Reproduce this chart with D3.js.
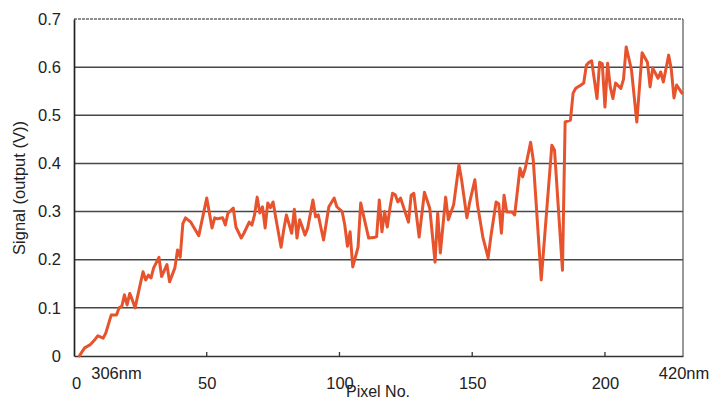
<!DOCTYPE html>
<html>
<head>
<meta charset="utf-8">
<script src="https://cdn.jsdelivr.net/npm/d3@7"></script>
<style>
  html, body { margin: 0; padding: 0; background: #fff; }
  svg { display: block; }
  text { font-family: "Liberation Sans", Arial, sans-serif; fill: #222; }
</style>
</head>
<body>
<svg id="chart" width="713" height="401"></svg>
<script>
// Detector output along the pixel array (pixel number vs. signal in volts)
const pixelNo = [
  2, 4, 6, 8, 9, 11, 12, 14, 16, 17, 18, 19, 20, 21, 22, 23, 26, 27, 28, 29,
  30, 32, 33, 35, 36, 38, 39, 40, 41, 42, 44, 47, 50, 52, 53, 54, 56, 57, 58, 60,
  61, 63, 64, 66, 67, 68, 69, 70, 71, 72, 73, 74, 75, 76, 78, 79, 80, 82, 83, 84,
  85, 86, 87, 88, 90, 91, 92, 94, 96, 98, 99, 101, 102, 103, 104, 105, 107, 108, 109, 111,
  113, 114, 115, 116, 117, 118, 119, 120, 121, 122, 123, 126, 127, 128, 130, 132, 134, 135, 136, 137,
  138, 140, 141, 143, 145, 146, 148, 149, 151, 152, 154, 156, 157, 159, 160, 161, 162, 163, 165, 166,
  168, 169, 170, 172, 173, 176, 180, 181, 184, 185, 187, 188, 189, 191, 192, 193, 194, 195, 197, 198,
  199, 200, 201, 202, 203, 204, 206, 207, 208, 210, 212, 214, 216, 217, 218, 220, 221, 222, 224, 225,
  226, 227, 229
];
const signal = [
  0.000, 0.017, 0.023, 0.035, 0.042, 0.037, 0.048, 0.085, 0.085, 0.100, 0.103, 0.127, 0.106, 0.130, 0.116, 0.100, 0.175, 0.158, 0.168, 0.162,
  0.183, 0.205, 0.165, 0.190, 0.154, 0.183, 0.220, 0.205, 0.275, 0.287, 0.278, 0.250, 0.328, 0.266, 0.287, 0.285, 0.287, 0.272, 0.297, 0.307,
  0.268, 0.245, 0.255, 0.278, 0.272, 0.293, 0.330, 0.297, 0.310, 0.266, 0.318, 0.308, 0.320, 0.287, 0.226, 0.262, 0.293, 0.255, 0.305, 0.245,
  0.283, 0.268, 0.251, 0.265, 0.324, 0.289, 0.293, 0.241, 0.310, 0.328, 0.310, 0.300, 0.272, 0.228, 0.258, 0.185, 0.226, 0.318, 0.293, 0.245,
  0.246, 0.248, 0.324, 0.258, 0.300, 0.268, 0.307, 0.338, 0.335, 0.320, 0.328, 0.278, 0.334, 0.338, 0.247, 0.340, 0.307, 0.251, 0.195, 0.297,
  0.214, 0.330, 0.283, 0.314, 0.397, 0.366, 0.287, 0.318, 0.366, 0.314, 0.247, 0.204, 0.247, 0.320, 0.316, 0.255, 0.334, 0.299, 0.299, 0.293,
  0.390, 0.372, 0.390, 0.444, 0.407, 0.158, 0.438, 0.428, 0.178, 0.486, 0.490, 0.546, 0.556, 0.563, 0.567, 0.604, 0.610, 0.613, 0.535, 0.610,
  0.607, 0.517, 0.608, 0.559, 0.535, 0.567, 0.556, 0.575, 0.642, 0.594, 0.486, 0.630, 0.610, 0.559, 0.598, 0.577, 0.590, 0.569, 0.625, 0.595,
  0.536, 0.563, 0.546
];
const yTicks = [0, 0.1, 0.2, 0.3, 0.4, 0.5, 0.6, 0.7];
const xTicks = [0, 50, 100, 150, 200];
const xTickMarks = [50, 100, 150, 200];
const edgeLabels = [
  { text: "306nm", at: 16 },
  { text: "420nm", at: 229.8 }
];

const svg = d3.select("#chart");
const plotLeft = 74, plotRight = 683, plotTop = 19, plotBottom = 356;
const fontStack = '"Liberation Sans", Arial, sans-serif';

const x = d3.scaleLinear().domain([0, 229.4]).range([plotLeft, plotRight]);
const y = d3.scaleLinear().domain([0, 0.7]).range([plotBottom, plotTop]);

// horizontal gridlines
svg.append("g")
  .selectAll("line")
  .data(yTicks.filter(t => t > 0 && t < 0.7))
  .join("line")
  .attr("x1", plotLeft).attr("x2", plotRight)
  .attr("y1", d => y(d)).attr("y2", d => y(d))
  .attr("stroke", "#474747")
  .attr("stroke-width", 1.5);

// top border (lighter, broken)
svg.append("line")
  .attr("x1", plotLeft).attr("x2", plotRight)
  .attr("y1", y(0.7)).attr("y2", y(0.7))
  .attr("stroke", "#6a6a6a")
  .attr("stroke-width", 1.4)
  .attr("stroke-dasharray", "3,1");

// right border
svg.append("line")
  .attr("x1", plotRight).attr("x2", plotRight)
  .attr("y1", y(0.7)).attr("y2", y(0))
  .attr("stroke", "#555")
  .attr("stroke-width", 1.2);

// y axis
const yAxis = d3.axisLeft(y)
  .tickValues(yTicks)
  .tickSize(0)
  .tickPadding(13)
  .tickFormat(d => d === 0 ? "0" : d3.format(".1f")(d));
const gy = svg.append("g")
  .attr("transform", `translate(${plotLeft},0)`)
  .call(yAxis);
gy.select(".domain").attr("stroke", "#222").attr("stroke-width", 1.7);
gy.selectAll("text")
  .style("font-size", "16.5px")
  .style("font-family", fontStack)
  .attr("fill", "#222");

// x axis
const xAxis = d3.axisBottom(x)
  .tickValues(xTicks)
  .tickSize(0)
  .tickPadding(21)
  .tickFormat(d3.format("d"));
const gx = svg.append("g")
  .attr("transform", `translate(0,${plotBottom})`)
  .call(xAxis);
gx.select(".domain").attr("stroke", "#333").attr("stroke-width", 1.7);
gx.selectAll("text")
  .style("font-size", "16.5px")
  .style("font-family", fontStack)
  .attr("fill", "#222");
gx.selectAll(".tick").filter(d => d === 0).select("text").attr("dx", 2);

// short inside tick marks on the x axis
svg.append("g")
  .selectAll("line")
  .data(xTickMarks)
  .join("line")
  .attr("x1", d => x(d)).attr("x2", d => x(d))
  .attr("y1", plotBottom).attr("y2", plotBottom - 4)
  .attr("stroke", "#333")
  .attr("stroke-width", 1.3);

// wavelength labels at the ends of the array
svg.append("g")
  .selectAll("text")
  .data(edgeLabels)
  .join("text")
  .attr("x", d => x(d.at))
  .attr("y", 379)
  .attr("text-anchor", "middle")
  .style("font-size", "16.5px")
  .text(d => d.text);

// axis titles
svg.append("text")
  .attr("x", 378)
  .attr("y", 397)
  .attr("text-anchor", "middle")
  .style("font-size", "16px")
  .text("Pixel No.");

svg.append("text")
  .attr("transform", "translate(25,188) rotate(-90)")
  .attr("text-anchor", "middle")
  .style("font-size", "16.5px")
  .text("Signal (output (V))");

// signal trace
const pts = pixelNo.map((p, i) => [p, signal[i]]);
svg.append("path")
  .datum(pts)
  .attr("fill", "none")
  .attr("stroke", "#e6532c")
  .attr("stroke-width", 3)
  .attr("stroke-linejoin", "round")
  .attr("stroke-linecap", "round")
  .attr("d", d3.line().x(d => x(d[0])).y(d => y(d[1])));
</script>
</body>
</html>
